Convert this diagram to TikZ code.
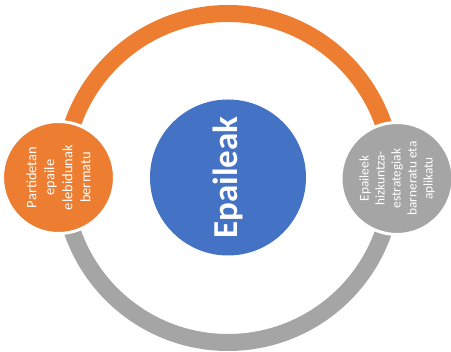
\documentclass[tikz,border=0pt]{standalone}
\usepackage{fontspec}
\setmainfont{Carlito}
\definecolor{ringorange}{HTML}{ED7D31}
\definecolor{ringgray}{HTML}{A5A5A5}
\definecolor{hubblue}{HTML}{4472C4}
\begin{document}
\begin{tikzpicture}[x=1pt,y=1pt]
    \tikzstyle{every node}+=[inner sep=0pt]
    \tikzstyle{sidecircle}=[circle, draw=white, line width=3, minimum size=112, text=white, align=center, rotate=90]
    \useasboundingbox (0,0) rectangle (451,352);
    \draw [ringorange, line width=17] (392.5,174) arc (0:180:164.5);
    \draw [ringgray, line width=17] (63.5,174) arc (180:360:164.5);
    \node [circle, fill=hubblue, minimum size=156, text=white, rotate=90, font=\fontsize{35}{40}\selectfont\bfseries] (hub) at (228,174.5) {Epaileak};
    \node [sidecircle, fill=ringorange, font=\fontsize{14.5}{18}\selectfont] (left) at (58.5,174.5) {Partidetan\\epaile\\elebidunak\\bermatu};
    \node [sidecircle, fill=ringgray, font=\fontsize{13.3}{16}\selectfont] (right) at (397,173.5) {Epaileek\\hizkuntza-\\estrategiak\\barneratu eta\\aplikatu};
\end{tikzpicture}
\end{document}
